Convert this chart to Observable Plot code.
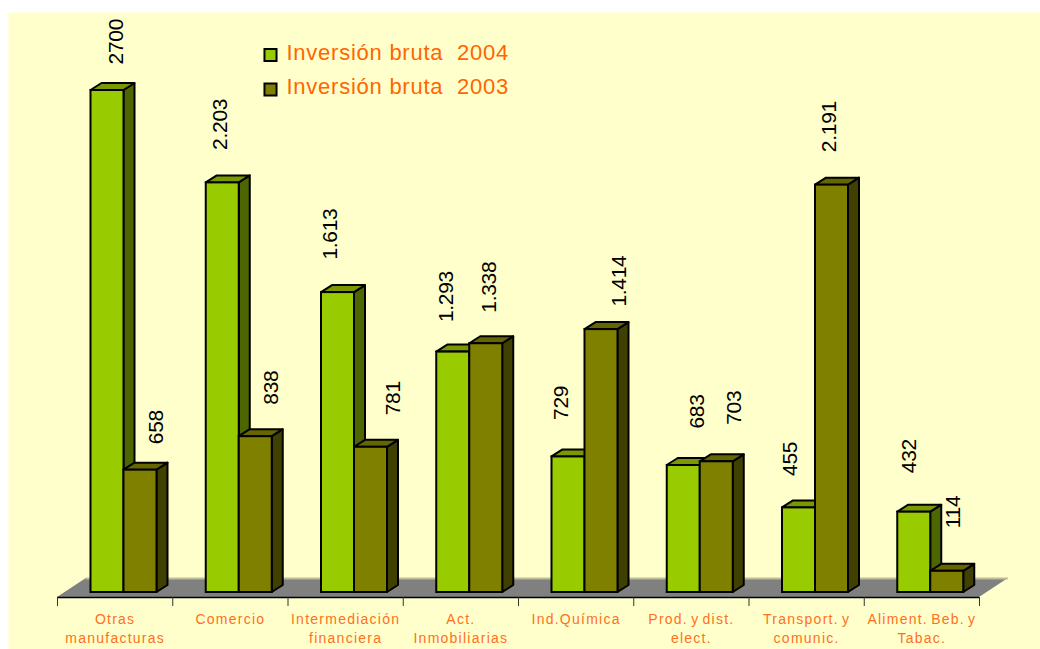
<!DOCTYPE html>
<html><head><meta charset="utf-8">
<style>
html,body{margin:0;padding:0;background:#fff}
svg{display:block}
.tick-label{letter-spacing:1.25px;word-spacing:-2px}
.legend-label{letter-spacing:0.75px;white-space:pre}
.value-label{letter-spacing:-0.3px}
</style>
<script src="https://cdn.jsdelivr.net/npm/d3@7"></script>
<script src="https://cdn.jsdelivr.net/npm/@observablehq/plot@0.6"></script>
</head><body><div id="chart"></div>
<script>
const categories = ["Otras\nmanufacturas","Comercio","Intermediación\nfinanciera","Act.\nInmobiliarias","Ind.Química","Prod. y dist.\nelect.","Transport. y\ncomunic.","Aliment. Beb. y\nTabac."];
const inv2004 = [2700,2203,1613,1293,729,683,455,432];
const inv2003 = [658,838,781,1338,1414,703,2191,114];
const labels2004 = ["2700","2.203","1.613","1.293","729","683","455","432"];
const labels2003 = ["658","838","781","1.338","1.414","703","2.191","114"];
const seriesNames = ["Inversión bruta  2004","Inversión bruta  2003"];

// label placement, in pixels relative to the bar's top centre
const nudgeX2004 = [9,-2,-8,-7,-7,14,-9,-5];
const gap2004 = [26,33,33,30,37,37,32,39];
const nudgeX2003 = [16,16,22,3,18,18,-3,6];
const gap2003 = [26,32,32,31,23,37,33,43];

const xRange=[57,979], yRange=[592,90], yMax=2700;
const pxX=(xRange[1]-xRange[0])/8, pxY=(yRange[0]-yRange[1])/yMax;
const bw=33/pxX, offs=33.5/pxX, dX=11/pxX, dY=7/pxY;

function faces(values,startOff,name){
  const front=[],side=[],top=[];
  values.forEach((v,i)=>{
    const l=i+startOff,r=l+bw,k=name+i;
    front.push({l,r,v,k});
    side.push({x:r,y1:0,y2:v,k},{x:r+dX,y1:dY,y2:v+dY,k});
    top.push({y:v,x1:l,x2:r,k},{y:v+dY,x1:l+dX,x2:r+dX,k});
  });
  return {front,side,top};
}
const a=faces(inv2004,offs,"a"), b=faces(inv2003,offs+bw,"b");
const barMarks=(f,cFront,cSide,cTop)=>[
  Plot.areaY(f.side,{x:"x",y1:"y1",y2:"y2",z:"k",fill:cSide,stroke:"#000",strokeWidth:2,curve:"linear"}),
  Plot.areaX(f.top,{y:"y",x1:"x1",x2:"x2",z:"k",fill:cTop,stroke:"#000",strokeWidth:2,curve:"linear"}),
  Plot.rect(f.front,{x1:"l",x2:"r",y1:0,y2:"v",fill:cFront,stroke:"#000",strokeWidth:2})
];
const valueLabels=(vals,labs,nx,gaps,startOff)=>Plot.text(vals.map((v,i)=>({
    x:i+startOff+bw/2+nx[i]/pxX, y:v+gaps[i]/pxY, t:labs[i]})),
  {x:"x",y:"y",text:"t",rotate:-90,textAnchor:"start",lineAnchor:"middle",fontSize:21,fill:"#000",fontFamily:"Liberation Sans",className:"value-label"});

const floorY0=-5/pxY, floorY1=14/pxY;
const floor=[{y:floorY0,x1:0,x2:8},{y:floorY1,x1:0.25,x2:8.25}];
const ticks=d3.range(0,9);
const tickLen=9/pxY;

const legendMark=(i,color,dy)=>[
  Plot.dot([0],{frameAnchor:"top-left",dx:262,dy:dy,symbol:"square",r:6.8,fill:color,stroke:"#000",strokeWidth:2}),
  Plot.text([seriesNames[i]],{frameAnchor:"top-left",dx:278,dy:dy-2.5,text:d=>d,textAnchor:"start",lineAnchor:"middle",fontSize:22,fill:"#FF6600",fontFamily:"Liberation Sans",className:"legend-label"})
];

const chart=Plot.plot({
  width:1040,height:649,marginLeft:8,marginTop:12,marginRight:0,marginBottom:0,
  style:{background:"#fff",overflow:"visible"},
  x:{domain:[0,8],range:xRange,axis:null},
  y:{domain:[0,yMax],range:yRange,axis:null},
  marks:[
    Plot.frame({fill:"#FFFFCC",stroke:"none"}),
    Plot.areaX(floor,{y:"y",x1:"x1",x2:"x2",fill:"#808080",curve:"linear"}),
    Plot.ruleY([floorY1],{x1:0.25,x2:8.25,stroke:"#BDBD9A",strokeWidth:2}),
    Plot.ruleY([floorY0],{x1:0,x2:8,stroke:"#000",strokeWidth:1.4}),
    Plot.ruleX(ticks,{y1:floorY0,y2:floorY0-tickLen,stroke:"#333",strokeWidth:1}),
    ...barMarks(a,"#99CC00","#4D6600","#7A9900"),
    ...barMarks(b,"#808000","#404000","#666600"),
    valueLabels(inv2004,labels2004,nudgeX2004,gap2004,offs),
    valueLabels(inv2003,labels2003,nudgeX2003,gap2003,offs+bw),
    Plot.text(categories,{x:(d,i)=>i+0.5,y:-18/pxY,text:d=>d,lineAnchor:"top",textAnchor:"middle",fontSize:14,lineHeight:1.36,fill:"#FF6F1E",fontFamily:"Liberation Sans",className:"tick-label"}),
    ...legendMark(0,"#99CC00",42.5),
    ...legendMark(1,"#808000",77)
  ]
});
document.getElementById("chart").append(chart);
</script></body></html>
